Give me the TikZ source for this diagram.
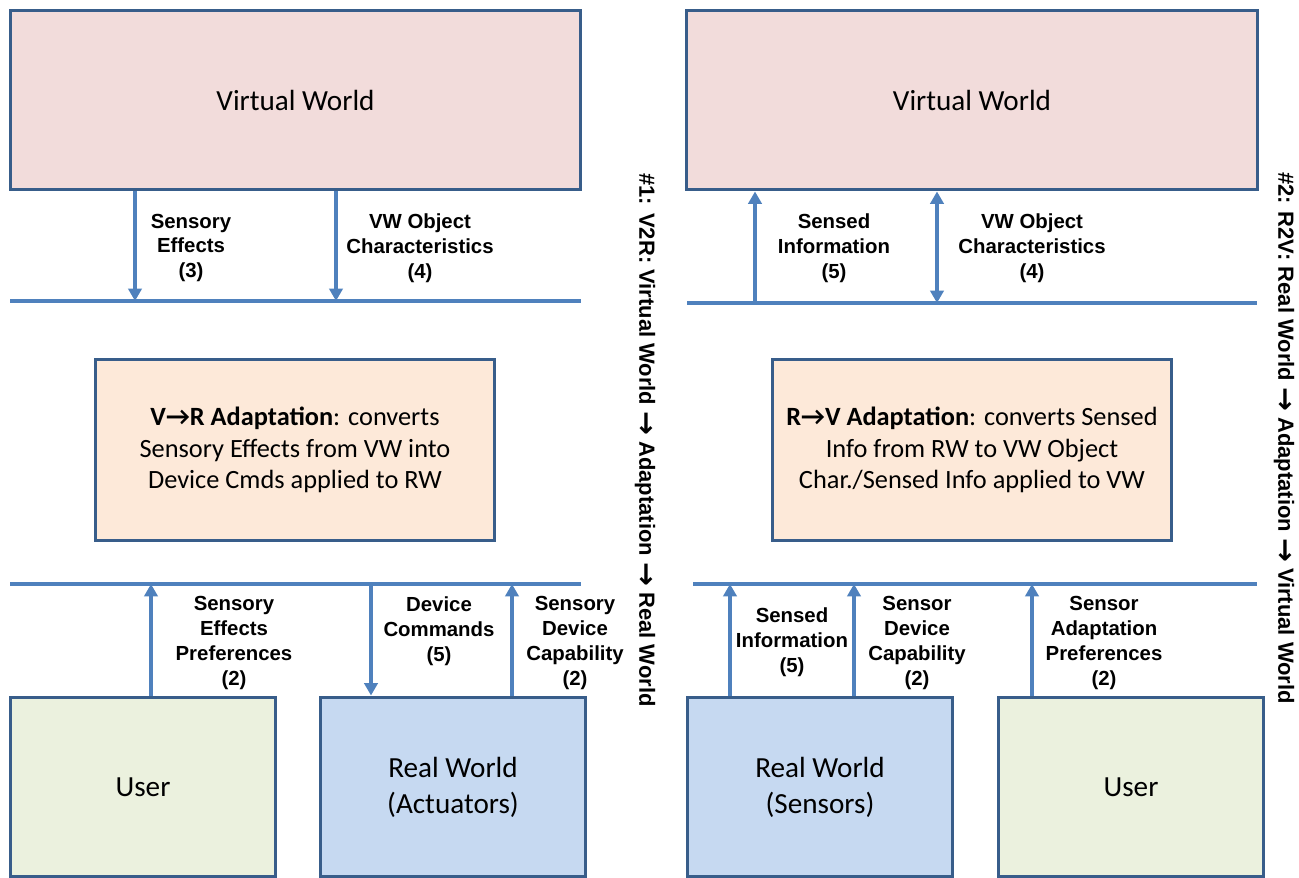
\documentclass[tikz,border=0pt]{standalone}
\usepackage{fontspec}
\setmainfont{Carlito}
\newfontfamily\lblfont{Liberation Sans}
\newfontfamily\arrowfont{DejaVu Sans}
\usetikzlibrary{arrows.meta}
\definecolor{vwfill}{HTML}{F2DCDB}
\definecolor{adaptfill}{HTML}{FDE9D9}
\definecolor{userfill}{HTML}{EBF1DE}
\definecolor{rwfill}{HTML}{C6D9F1}
\definecolor{boxblue}{HTML}{385D8A}
\definecolor{busblue}{HTML}{4F81BD}
\newcommand{\sidearrow}{\raisebox{-1pt}{\scalebox{1.3}{\arrowfont\bfseries →}}}
\begin{document}
\begin{tikzpicture}
    [x=0.02cm, y=-0.02cm,
    box/.style={rectangle, draw=boxblue, line width=1.7pt, inner sep=0pt, align=center,
        font=\fontsize{16.6}{20.5}\selectfont},
    vw/.style={box, fill=vwfill, minimum width=11.42cm, minimum height=3.6cm},
    adapt/.style={box, fill=adaptfill, minimum width=8cm, minimum height=3.64cm,
        font=\fontsize{15}{17.9}\selectfont},
    user/.style={box, fill=userfill, minimum width=5.32cm, minimum height=3.6cm},
    rw/.style={box, fill=rwfill, minimum width=5.32cm, minimum height=3.6cm},
    lbl/.style={align=center, inner sep=0pt, font=\lblfont\bfseries\fontsize{11.6}{14.2}\selectfont},
    side/.style={lbl, rotate=-90, font=\lblfont\bfseries\fontsize{12.5}{14.2}\selectfont},
    bus/.style={draw=busblue, line width=2.5pt},
    flow/.style={draw=busblue, line width=2pt, -{Triangle[length=7pt, width=7.5pt]}},
    both/.style={flow, {Triangle[length=7pt, width=7.5pt]}-{Triangle[length=7pt, width=7.5pt]}}
    ]
    \useasboundingbox (0,0) rectangle (1299,878);

    % V2R
    \node [vw] (vwL) at (295.5,100) {Virtual World};
    \node [adapt] (adaptL) at (295,450) {\textbf{V→R Adaptation}: converts\\Sensory Effects from VW into\\Device Cmds applied to RW};
    \node [user] (userL) at (143,787) {User};
    \node [rw] (rwA) at (453,787) {Real World\\(Actuators)};
    \coordinate (busTLa) at (10,301);
    \coordinate (busTLb) at (581,301);
    \coordinate (busBLa) at (10,584);
    \coordinate (busBLb) at (581,584);
    \draw [bus] (busTLa) -- (busTLb);
    \draw [bus] (busBLa) -- (busBLb);
    \draw [flow] (135,0 |- vwL.south) -- (135,0 |- busTLa);
    \draw [flow] (336,0 |- vwL.south) -- (336,0 |- busTLa);
    \draw [flow] (151,0 |- userL.north) -- (151,0 |- busBLa);
    \draw [flow] (371,0 |- busBLa) -- (371,0 |- rwA.north);
    \draw [flow] (512,0 |- rwA.north) -- (512,0 |- busBLa);
    \node [lbl] (seL) at (191,248) {Sensory\\Effects\\(3)};
    \node [lbl] (vwocL) at (420,248) {VW Object\\Characteristics\\(4)};
    \node [lbl] (sepL) at (234,643) {Sensory\\Effects\\Preferences\\(2)};
    \node [lbl] (dcL) at (439,631) {Device\\Commands\\(5)};
    \node [lbl] (sdcL) at (575,643) {Sensory\\Device\\Capability\\(2)};
    \node [side] (titleL) at (645,440) {\#1: V2R: Virtual World \sidearrow{} Adaptation \sidearrow{} Real World};

    % R2V
    \node [vw] (vwR) at (972,100) {Virtual World};
    \node [adapt] (adaptR) at (972,450) {\textbf{R→V Adaptation}: converts Sensed\\Info from RW to VW Object\\Char./Sensed Info applied to VW};
    \node [rw] (rwS) at (820,787) {Real World\\(Sensors)};
    \node [user] (userR) at (1131,787) {User};
    \coordinate (busTRa) at (687,303);
    \coordinate (busTRb) at (1257,303);
    \coordinate (busBRa) at (693,584);
    \coordinate (busBRb) at (1257,584);
    \draw [bus] (busTRa) -- (busTRb);
    \draw [bus] (busBRa) -- (busBRb);
    \draw [flow] (755,0 |- busTRa) -- (755,0 |- vwR.south);
    \draw [both] (937,0 |- busTRa) -- (937,0 |- vwR.south);
    \draw [flow] (730,0 |- rwS.north) -- (730,0 |- busBRa);
    \draw [flow] (854,0 |- rwS.north) -- (854,0 |- busBRa);
    \draw [flow] (1032,0 |- userR.north) -- (1032,0 |- busBRa);
    \node [lbl] (siR) at (834,248) {Sensed\\Information\\(5)};
    \node [lbl] (vwocR) at (1032,248) {VW Object\\Characteristics\\(4)};
    \node [lbl] (siBR) at (792,642) {Sensed\\Information\\(5)};
    \node [lbl] (sdcR) at (917,643) {Sensor\\Device\\Capability\\(2)};
    \node [lbl] (sapR) at (1104,643) {Sensor\\Adaptation\\Preferences\\(2)};
    \node [side] (titleR) at (1284,438) {\#2: R2V: Real World \sidearrow{} Adaptation \sidearrow{} Virtual World};
\end{tikzpicture}
\end{document}
